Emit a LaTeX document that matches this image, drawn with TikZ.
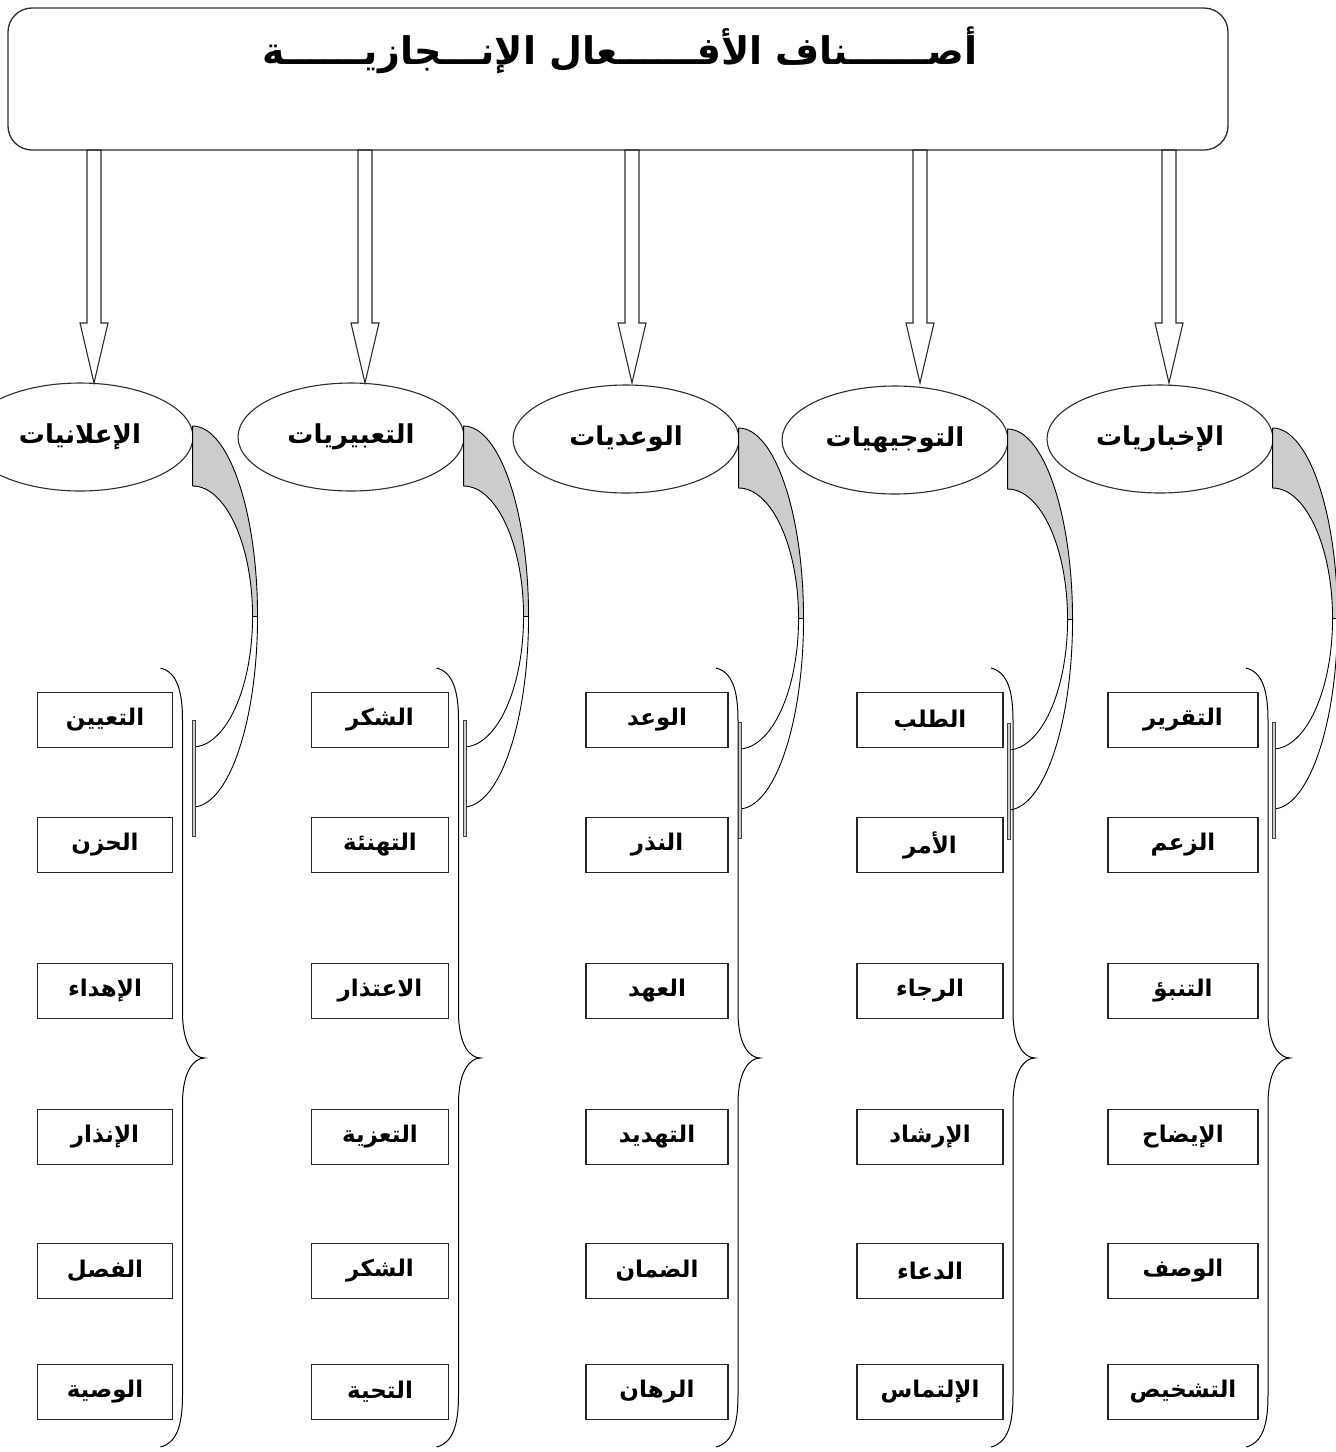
\documentclass[tikz,border=0pt]{standalone}
\usepackage{fontspec}
\newfontfamily\arabicfont[Script=Arabic]{DejaVu Sans}
\TeXXeTstate=1
\usepackage{tikz}
\usetikzlibrary{positioning,calc,shapes.geometric}
\definecolor{linegray}{RGB}{45,45,45}
\definecolor{bandgray}{RGB}{204,204,204}

\begin{document}
\begin{tikzpicture}[x=1pt, y=-1pt,
    frame/.style={draw=linegray, line width=1.3pt, rounded corners=24pt, minimum width=1220pt, minimum height=142pt, inner sep=0pt},
    heading/.style={font=\arabicfont\bfseries\fontsize{38}{44}\selectfont, inner sep=0pt},
    kind/.style={ellipse, draw=linegray, line width=1.1pt, minimum width=226pt, minimum height=108pt, inner sep=0pt, font=\arabicfont\bfseries\fontsize{26}{30}\selectfont},
    act/.style={draw=black!85, line width=1.8pt, minimum height=55pt, inner sep=0pt, font=\arabicfont\bfseries\fontsize{23}{27}\selectfont},
    hollow/.style={draw=linegray, line width=1.1pt, line join=miter},
    band/.style={draw=black, line width=0.9pt, fill=bandgray},
    curl/.style={draw=black, line width=0.9pt},
    bar/.style={draw=black!75, line width=0.7pt, fill=bandgray},
    brace/.style={draw=black, line width=1pt},
]
    \useasboundingbox (0,0) rectangle (1336,1452);
    \node[frame] (top) at (618,79) {};
    \node[heading] (ttl) at (620,50) {\beginR أصــــــناف الأفــــــعال الإنـــجازيــــــة\endR};
    % Classes
    \foreach \i/\ex/\ey/\ax/\lab in {1/80/437/94/الإعلانيات, 2/351/437/365/التعبيريات, 3/626/439/632/الوعديات,
                                     4/895/440/920/التوجيهيات, 5/1160/439/1169/الإخباريات} {
        \node[kind] (c\i) at (\ex,\ey) {\beginR\lab\endR};
        \coordinate (tip\i) at (\ax,383);
        \draw[hollow] (tip\i) -- ++(-14,-60) -- ++(7,0) -- ++(0,-173) -- ++(14,0) -- ++(0,173) -- ++(7,0) -- cycle;
    }
    % Acts
    \foreach \i/\bx/\bw/\words in {
        1/105/135/{التعيين,الحزن,الإهداء,الإنذار,الفصل,الوصية},
        2/380/137/{الشكر,التهنئة,الاعتذار,التعزية,الشكر,التحية},
        3/657/142/{الوعد,النذر,العهد,التهديد,الضمان,الرهان},
        4/930/146/{الطلب,الأمر,الرجاء,الإرشاد,الدعاء,الإلتماس},
        5/1183/150/{التقرير,الزعم,التنبؤ,الإيضاح,الوصف,التشخيص}} {
        \foreach \w [count=\j] in \words {
            \pgfmathsetmacro{\yy}{{720,845,991,1137,1271,1392}[\j-1]}
            \node[act, minimum width=\bw pt] (b\i-\j) at (\bx,\yy) {\beginR\w\endR};
        }
        \pgfmathsetmacro{\r}{\bx+\bw/2}
        \draw[brace] (\r-12,668) .. controls (\r+4,672) and (\r+10,690) .. (\r+10,720)
            -- (\r+10,1012) .. controls (\r+10,1046) and (\r+22,1058) .. (\r+32,1058)
            .. controls (\r+22,1058) and (\r+10,1070) .. (\r+10,1104)
            -- (\r+10,1395) .. controls (\r+10,1426) and (\r+4,1443) .. (\r-12,1447);
    }
    % Curved arrows
    \foreach \i in {1,...,5} {
        \coordinate (s\i) at ($(c\i.east)+(-1,-11)$);
        \draw[band] (s\i) .. controls +(36,0) and +(0,-105) .. ($(s\i)+(65,190.5)$)
            -- ($(s\i)+(60,190.5)$) .. controls +(0,-72) and +(33,0) .. ($(s\i)+(0,60)$) -- cycle;
        \draw[curl] ($(s\i)+(65,190.5)$) .. controls +(0,105) and +(36,0) .. ($(s\i)+(0,381)$);
        \draw[curl] ($(s\i)+(60,190.5)$) .. controls +(0,72) and +(33,0) .. ($(s\i)+(0,321)$);
        \draw[bar] ($(s\i)+(0,294)$) rectangle ($(s\i)+(3,410)$);
    }
\end{tikzpicture}
\end{document}
